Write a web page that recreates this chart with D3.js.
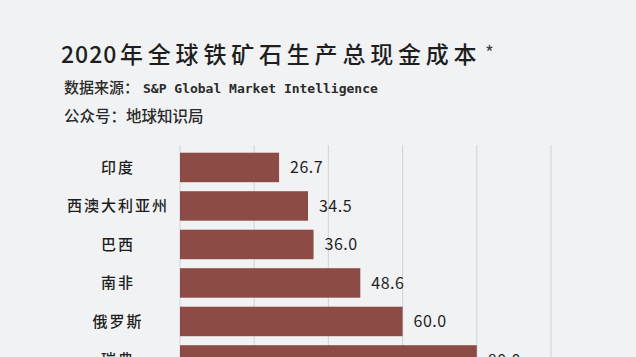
<!DOCTYPE html>
<html><head><meta charset="utf-8">
<script src="https://cdn.jsdelivr.net/npm/d3@7"></script>
<style>
html,body{margin:0;padding:0;background:#f1f2f4;}
svg{display:block;}
</style></head>
<body>
<svg id="c" width="636" height="357"></svg>
<script>
const categories = ["印度","西澳大利亚州","巴西","南非","俄罗斯","瑞典"];
const values = [26.7, 34.5, 36.0, 48.6, 60.0, 80.0];
const valueLabels = ["26.7","34.5","36.0","48.6","60.0","80.0"];
const gridTicks = [0, 20, 40, 60, 80, 100];
const titleYear = "2020";
const titleText = "年全球铁矿石生产总现金成本";
const sourceText = "数据来源：";
const sourceEn = "S&P Global Market Intelligence";
const accountText = "公众号：地球知识局";

const svg = d3.select("#c");
const W = 636, H = 357;
svg.append("rect").attr("width", W).attr("height", H).attr("fill", "#f1f2f4");

const cjk = "'Noto Sans CJK SC','Noto Sans',sans-serif";

// Title
svg.append("text").attr("x", 61).attr("y", 63)
  .attr("font-family", cjk).attr("font-size", 23).attr("font-weight", 500).attr("fill", "#1e1e1e")
  .attr("letter-spacing", 1).text(titleYear);
svg.append("g").selectAll("text").data(Array.from(titleText)).join("text")
  .attr("x", (d, i) => 120 + i * 27.8).attr("y", 63)
  .attr("font-family", cjk).attr("font-size", 23).attr("font-weight", 500).attr("fill", "#1e1e1e")
  .text(d => d);
svg.append("text").attr("x", 485).attr("y", 60).attr("font-family", cjk)
  .attr("font-size", 19).attr("fill", "#444").text("*");

// Subtitles
svg.append("text").attr("x", 64).attr("y", 93).attr("fill", "#2a2a2a").attr("font-size", 15)
  .attr("font-family", cjk).attr("font-weight", 500).text(sourceText);
svg.append("text").attr("x", 143).attr("y", 93).attr("fill", "#2a2a2a")
  .attr("font-family", "'DejaVu Sans Mono',monospace").attr("font-size", 13).attr("font-weight", "bold")
  .text(sourceEn);
svg.append("text").attr("x", 64).attr("y", 122).attr("font-family", cjk).attr("font-weight", 500)
  .attr("font-size", 15.5).attr("fill", "#2a2a2a").text(accountText);

// Scales
const x = d3.scaleLinear().domain([0, 100]).range([180, 551]);
const y = d3.scaleBand().domain(categories).range([148.2, 379.2]).paddingInner(0.234).paddingOuter(0.117);

// Grid
svg.append("g").selectAll("line").data(gridTicks).join("line")
  .attr("x1", d => x(d)).attr("x2", d => x(d))
  .attr("y1", 145).attr("y2", H)
  .attr("stroke", "#d6d7da").attr("stroke-width", 1.2);

// Bars
svg.append("g").selectAll("rect").data(categories).join("rect")
  .attr("x", x(0)).attr("y", d => y(d))
  .attr("width", (d, i) => x(values[i]) - x(0))
  .attr("height", y.bandwidth())
  .attr("fill", "#8c4b44");

// Category labels
svg.append("g").selectAll("text").data(categories).join("text")
  .attr("x", 118).attr("y", d => y(d) + y.bandwidth() / 2)
  .attr("dy", "0.36em").attr("text-anchor", "middle")
  .attr("font-family", cjk).attr("font-size", 15).attr("font-weight", 500)
  .attr("letter-spacing", 2).attr("fill", "#1e1e1e")
  .text(d => d);

// Value labels
svg.append("g").selectAll("text").data(categories).join("text")
  .attr("x", (d, i) => x(values[i]) + 11).attr("y", d => y(d) + y.bandwidth() / 2)
  .attr("dy", "0.36em")
  .attr("font-family", cjk).attr("font-size", 16).attr("letter-spacing", 0.5).attr("fill", "#1e1e1e")
  .text((d, i) => valueLabels[i]);
</script>
</body></html>
